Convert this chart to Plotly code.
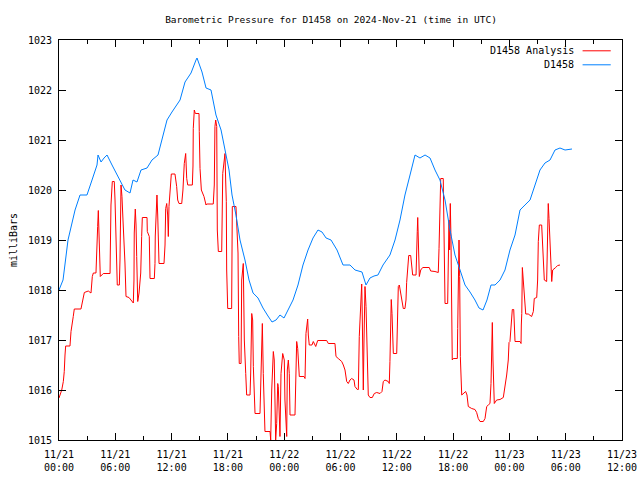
import pandas as pd
import plotly.graph_objects as go

# ---- data (hours since 2024-11-21 00:00 UTC, pressure in mbar) ----
obs_hours = [0.00, 0.43, 0.96, 1.71, 2.24, 2.98, 3.52, 4.05, 4.16, 4.48, 4.80, 5.12, 5.65, 6.50, 7.03,
             7.57, 7.89, 8.31, 8.74, 9.38, 9.91, 10.55, 10.98, 11.51, 12.04, 12.90, 13.43, 14.07, 14.60,
             14.71, 15.24, 15.67, 16.20, 16.73, 17.27, 17.69, 18.12, 18.44, 18.86, 19.29, 19.82, 20.25,
             20.68, 21.21, 21.74, 22.27, 22.70, 23.13, 23.55, 23.98, 24.41, 24.94, 25.47, 26.00, 26.54,
             27.07, 27.60, 28.03, 28.46, 28.99, 29.63, 30.27, 31.01, 31.55, 32.29, 32.72, 33.14, 33.57,
             33.99, 34.53, 35.27, 35.81, 36.34, 36.87, 37.41, 37.94, 38.47, 39.01, 39.54, 40.07, 40.60,
             41.14, 41.67, 42.20, 42.74, 43.27, 43.80, 44.33, 44.76, 45.19, 45.61, 46.04, 46.47, 47.00,
             47.53, 48.06, 48.60, 49.13, 49.66, 50.20, 50.73, 51.26, 51.79, 52.33, 52.86, 53.39, 53.93,
             54.67]
obs_press = [1018.00, 1018.20, 1019.00, 1019.60, 1019.90, 1019.90, 1020.20, 1020.50, 1020.70, 1020.56,
             1020.64, 1020.70, 1020.50, 1020.20, 1020.00, 1019.94, 1020.20, 1020.16, 1020.40, 1020.44,
             1020.60, 1020.70, 1021.00, 1021.40, 1021.56, 1021.80, 1022.16, 1022.34, 1022.60, 1022.64,
             1022.36, 1022.04, 1022.00, 1021.50, 1021.20, 1020.80, 1020.40, 1019.90, 1019.50, 1019.00,
             1018.60, 1018.20, 1017.94, 1017.84, 1017.64, 1017.48, 1017.36, 1017.40, 1017.50, 1017.44,
             1017.60, 1017.80, 1018.10, 1018.50, 1018.80, 1019.04, 1019.20, 1019.16, 1019.04, 1019.00,
             1018.80, 1018.50, 1018.50, 1018.40, 1018.36, 1018.10, 1018.24, 1018.28, 1018.30, 1018.50,
             1018.70, 1019.00, 1019.40, 1019.90, 1020.30, 1020.70, 1020.64, 1020.70, 1020.64, 1020.40,
             1020.20, 1019.80, 1019.20, 1018.70, 1018.40, 1018.10, 1017.96, 1017.80, 1017.64, 1017.60,
             1017.80, 1018.10, 1018.10, 1018.20, 1018.40, 1018.80, 1019.10, 1019.60, 1019.70, 1019.80,
             1020.10, 1020.40, 1020.54, 1020.60, 1020.80, 1020.84, 1020.80, 1020.82]

ana_hours = [0.00, 0.29, 0.46, 0.56, 0.64, 0.71, 1.17, 1.28, 1.52, 1.63, 2.34, 2.48, 2.70, 3.12, 3.41,
             3.55, 3.66, 3.94, 4.02, 4.12, 4.19, 4.26, 4.34, 4.40, 4.72, 5.44, 5.47, 5.54, 5.68, 5.89,
             5.97, 6.04, 6.15, 6.21, 6.43, 6.50, 6.61, 6.71, 6.82, 6.93, 7.03, 7.14, 7.46, 7.67, 7.92,
             7.99, 8.02, 8.13, 8.21, 8.28, 8.39, 8.53, 8.71, 8.81, 8.88, 9.38, 9.41, 9.62, 9.67, 9.70,
             10.16, 10.23, 10.26, 10.37, 10.44, 10.52, 10.58, 10.66, 11.19, 11.30, 11.37, 11.48, 11.58,
             11.65, 11.72, 11.83, 11.97, 12.36, 12.54, 12.65, 12.79, 13.08, 13.21, 13.35, 13.50, 13.61,
             13.72, 14.21, 14.28, 14.31, 14.42, 14.53, 14.92, 14.95, 15.03, 15.17, 15.45, 15.67, 15.74,
             16.44, 16.55, 16.62, 16.70, 16.81, 16.87, 16.98, 17.34, 17.45, 17.55, 17.62, 17.69, 17.77,
             17.83, 17.87, 17.98, 18.40, 18.47, 18.86, 18.94, 19.08, 19.15, 19.21, 19.40, 19.47, 19.64,
             19.75, 19.90, 20.00, 20.36, 20.43, 20.54, 20.64, 20.71, 20.89, 21.42, 21.53, 21.67, 21.77,
             21.95, 22.49, 22.56, 22.67, 22.84, 22.94, 23.09, 23.20, 23.31, 23.37, 23.55, 23.66, 23.84,
             24.01, 24.08, 24.19, 24.27, 24.33, 24.44, 24.54, 24.62, 25.15, 25.22, 25.33, 25.44, 25.50,
             25.61, 26.11, 26.22, 26.32, 26.50, 26.57, 26.67, 26.96, 27.10, 27.36, 27.57, 28.53, 28.70,
             29.41, 29.52, 29.76, 30.13, 30.30, 30.48, 30.66, 30.83, 31.01, 31.19, 31.44, 31.54, 31.79,
             31.90, 32.00, 32.15, 32.26, 32.31, 32.37, 32.43, 32.50, 32.61, 32.72, 32.79, 32.90, 32.96,
             33.14, 33.39, 33.60, 33.86, 34.21, 34.42, 34.56, 34.74, 35.09, 35.20, 35.27, 35.35, 35.41,
             35.49, 35.56, 35.63, 35.99, 36.05, 36.16, 36.27, 36.37, 36.52, 36.63, 36.69, 36.87, 36.98,
             37.05, 37.16, 37.27, 37.48, 37.59, 37.69, 38.05, 38.12, 38.18, 38.23, 38.33, 38.40, 38.55,
             38.76, 39.46, 39.61, 40.07, 40.42, 40.50, 40.57, 40.68, 40.95, 41.03, 41.14, 41.42, 41.49,
             41.56, 41.63, 41.70, 41.77, 41.85, 41.91, 42.02, 42.45, 42.49, 42.55, 42.63, 42.70, 42.77,
             42.92, 43.09, 43.34, 43.48, 43.62, 43.98, 44.33, 44.51, 44.68, 44.87, 45.22, 45.40, 45.58,
             45.75, 45.93, 46.04, 46.11, 46.18, 46.25, 46.33, 46.39, 46.64, 47.00, 47.35, 47.46, 47.60,
             47.71, 47.88, 47.96, 48.06, 48.17, 48.31, 48.46, 48.52, 48.60, 49.13, 49.24, 49.27, 49.32,
             49.38, 49.45, 49.56, 49.66, 49.74, 50.01, 50.20, 50.37, 50.55, 50.62, 50.65, 50.91, 51.01,
             51.08, 51.19, 51.44, 51.51, 51.61, 51.72, 51.97, 52.04, 52.14, 52.22, 52.36, 52.43, 52.51,
             52.61, 52.75, 52.93, 53.14, 53.39]
ana_press = [1015.84, 1016.00, 1016.17, 1016.37, 1016.70, 1016.88, 1016.88, 1017.17, 1017.47, 1017.62,
             1017.62, 1017.77, 1017.95, 1017.98, 1017.94, 1018.27, 1018.34, 1018.34, 1018.64, 1019.27,
             1019.59, 1019.27, 1018.67, 1018.27, 1018.33, 1018.33, 1018.80, 1019.70, 1020.17, 1020.17,
             1019.80, 1019.14, 1018.44, 1018.10, 1018.10, 1018.60, 1020.10, 1019.87, 1019.40, 1019.00,
             1018.54, 1017.87, 1017.85, 1017.80, 1017.74, 1018.20, 1019.14, 1019.62, 1019.30, 1018.67,
             1017.77, 1017.94, 1018.34, 1019.07, 1019.45, 1019.45, 1019.17, 1019.07, 1018.54, 1018.23,
             1018.23, 1018.53, 1019.08, 1019.63, 1019.90, 1019.50, 1018.90, 1018.53, 1018.53, 1018.90,
             1019.63, 1019.73, 1019.50, 1019.07, 1019.67, 1020.08, 1020.32, 1020.32, 1020.07, 1019.80,
             1019.73, 1019.73, 1020.00, 1020.53, 1020.73, 1020.23, 1020.10, 1020.10, 1020.48, 1021.23,
             1021.60, 1021.53, 1021.53, 1021.17, 1020.43, 1020.00, 1019.87, 1019.70, 1019.72, 1019.72,
             1020.10, 1021.27, 1021.40, 1021.27, 1019.20, 1018.77, 1018.77, 1020.33, 1020.47, 1020.60,
             1020.73, 1020.14, 1019.77, 1018.40, 1017.63, 1017.63, 1019.67, 1019.67, 1019.17, 1018.74,
             1017.07, 1016.53, 1016.53, 1018.20, 1018.53, 1017.00, 1016.33, 1015.90, 1015.90, 1016.34,
             1017.53, 1017.40, 1016.47, 1015.53, 1015.53, 1016.33, 1017.33, 1016.33, 1015.17, 1015.17,
             1015.00, 1016.00, 1016.77, 1016.60, 1015.00, 1015.33, 1016.13, 1016.07, 1015.07, 1016.33,
             1016.73, 1016.60, 1015.80, 1015.40, 1015.07, 1016.40, 1016.60, 1016.33, 1015.50, 1015.50,
             1015.93, 1016.97, 1016.83, 1016.60, 1016.27, 1016.27, 1016.23, 1017.13, 1017.42, 1017.10,
             1016.90, 1016.90, 1016.97, 1016.87, 1016.99, 1016.99, 1016.93, 1016.93, 1016.67, 1016.63,
             1016.57, 1016.50, 1016.40, 1016.17, 1016.13, 1016.20, 1016.23, 1016.20, 1016.07, 1016.01,
             1016.01, 1017.07, 1017.77, 1018.12, 1017.60, 1016.53, 1016.00, 1016.94, 1018.07, 1017.67,
             1017.07, 1016.27, 1015.90, 1015.85, 1015.85, 1015.93, 1015.95, 1015.93, 1015.97, 1016.17,
             1016.20, 1016.17, 1016.13, 1016.57, 1017.40, 1017.81, 1017.53, 1017.27, 1016.73, 1016.73,
             1017.47, 1018.07, 1018.10, 1018.00, 1017.87, 1017.70, 1017.63, 1017.63, 1017.80, 1018.15,
             1018.40, 1018.69, 1018.69, 1018.43, 1018.30, 1018.30, 1018.60, 1019.17, 1019.45, 1018.60,
             1018.27, 1018.40, 1018.45, 1018.45, 1018.38, 1018.37, 1018.35, 1018.83, 1019.77, 1020.23,
             1020.23, 1019.07, 1017.73, 1017.73, 1018.40, 1019.40, 1018.80, 1019.73, 1019.07, 1017.33,
             1016.60, 1016.63, 1016.63, 1017.23, 1018.27, 1019.00, 1018.27, 1016.67, 1015.90, 1015.93,
             1015.97, 1015.90, 1015.67, 1015.63, 1015.61, 1015.55, 1015.43, 1015.37, 1015.37, 1015.43,
             1015.67, 1015.70, 1015.73, 1016.13, 1016.93, 1017.35, 1016.60, 1016.07, 1015.73, 1015.80,
             1015.81, 1015.85, 1015.97, 1016.20, 1016.30, 1016.60, 1016.95, 1016.97, 1017.27, 1017.61,
             1017.61, 1017.40, 1016.97, 1016.97, 1016.93, 1017.30, 1017.53, 1018.45, 1018.30, 1018.07,
             1017.73, 1017.52, 1017.52, 1017.49, 1017.47, 1017.57, 1017.77, 1017.83, 1017.85, 1018.20,
             1018.97, 1019.30, 1019.30, 1018.93, 1018.53, 1018.20, 1018.17, 1019.33, 1019.73, 1019.43,
             1018.67, 1018.40, 1018.17, 1018.40, 1018.43, 1018.45, 1018.49, 1018.50]

series_names = ["D1458 Analysis", "D1458"]
series_colors = ["#ff0000", "#0080ff"]
start = pd.Timestamp("2024-11-21 00:00")
x_end = pd.Timestamp("2024-11-23 12:00")
y_range = [1015, 1023]

ana_t = start + pd.to_timedelta(ana_hours, unit="h")
obs_t = start + pd.to_timedelta(obs_hours, unit="h")

FONT = "DejaVu Sans Mono"

fig = go.Figure()
fig.add_trace(go.Scatter(x=ana_t, y=ana_press, mode="lines", name=series_names[0],
                         line=dict(color=series_colors[0], width=1), showlegend=False))
fig.add_trace(go.Scatter(x=obs_t, y=obs_press, mode="lines", name=series_names[1],
                         line=dict(color=series_colors[1], width=1), showlegend=False))

# gnuplot-style key: right-aligned text with line sample to the right
key_rows = [0.973, 0.938]
for name, col, yy in zip(series_names, series_colors, key_rows):
    fig.add_annotation(xref="paper", yref="paper", x=0.918, y=yy, text=name, showarrow=False,
                       xanchor="right", yanchor="middle", font=dict(family=FONT, size=10, color="black"))
    fig.add_shape(type="line", xref="paper", yref="paper", x0=0.93, x1=0.98, y0=yy, y1=yy,
                  line=dict(color=col, width=1))

fig.update_layout(
    width=640, height=480,
    margin=dict(l=59, r=18, t=40, b=40),
    paper_bgcolor="white", plot_bgcolor="white",
    font=dict(family=FONT, size=10, color="black"),
    title=dict(text="Barometric Pressure for D1458 on 2024-Nov-21 (time in UTC)",
               x=331 / 640, xanchor="center", y=1 - 20 / 480, yanchor="middle",
               font=dict(family=FONT, size=9.5, color="black")),
)
fig.update_xaxes(
    type="date", range=[start, x_end], automargin=False,
    tick0=start, dtick=6 * 3600 * 1000, tickformat="%m/%d<br>%H:%M",
    ticks="inside", ticklen=7, tickcolor="black", tickwidth=1, ticklabelstandoff=5,
    ticklabeloverflow="allow",
    minor=dict(dtick=3 * 3600 * 1000, ticks="inside", ticklen=4, tickcolor="black", showgrid=False),
    showline=True, linecolor="black", linewidth=1, mirror="ticks",
    showgrid=False, zeroline=False, tickfont=dict(family=FONT, size=10),
)
fig.update_yaxes(
    range=y_range, dtick=1, tick0=1015, automargin=False,
    ticks="inside", ticklen=7, tickcolor="black", tickwidth=1, ticklabelstandoff=4,
    showline=True, linecolor="black", linewidth=1, mirror="ticks",
    showgrid=False, zeroline=False, tickfont=dict(family=FONT, size=10),
    title=dict(text="milliBars", standoff=8, font=dict(family=FONT, size=10)),
)

# remove the browser's default 8px body margin so the figure sits at the page origin
fig.write_html("out.html", config={"displayModeBar": False},
               post_script="document.body.style.margin='0';")
